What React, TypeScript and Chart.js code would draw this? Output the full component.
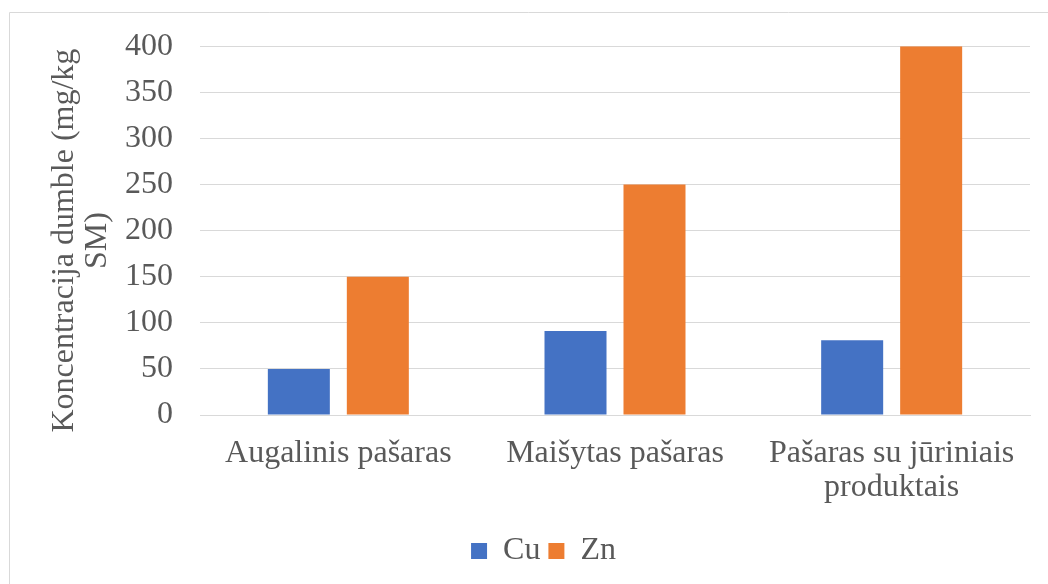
import React, { useEffect, useRef } from "react";
import { Chart, registerables } from "chart.js";

Chart.register(...registerables);

const categories: (string | string[])[] = [
  "Augalinis pašaras",
  "Maišytas pašaras",
  ["Pašaras su jūriniais", "produktais"],
];
const cuValues = [50, 91, 81];
const znValues = [150, 250, 400];
const yTitle = ["Koncentracija dumble (mg/kg", "SM)"];

const FONT = "'Liberation Serif', 'Times New Roman', serif";
const TEXT = "#595959";
const GRID = "#d9d9d9";

const frame = {
  id: "frame",
  afterDraw(chart: any) {
    const ctx = chart.ctx;
    ctx.save();
    ctx.strokeStyle = GRID;
    ctx.lineWidth = 1;
    ctx.beginPath();
    ctx.moveTo(9.5, chart.height);
    ctx.lineTo(9.5, 12.5);
    ctx.lineTo(chart.width, 12.5);
    ctx.stroke();
    ctx.restore();
  },
};

const yTitlePlugin = {
  id: "yTitlePlugin",
  afterDraw(chart: any) {
    const ctx = chart.ctx;
    const scale = chart.scales.y;
    const area = chart.chartArea;
    const lineH = 33;
    const cy = (area.top + area.bottom) / 2 + 10;
    const x0 = scale.left + 7.5;
    ctx.save();
    ctx.fillStyle = TEXT;
    ctx.font = `32px ${FONT}`;
    ctx.textAlign = "center";
    ctx.textBaseline = "middle";
    yTitle.forEach((line, i) => {
      ctx.save();
      ctx.translate(x0 + i * lineH, cy);
      ctx.rotate(-Math.PI / 2);
      ctx.fillText(line, 0, 0);
      ctx.restore();
    });
    ctx.restore();
  },
};

export default function App() {
  const ref = useRef<HTMLCanvasElement>(null);
  useEffect(() => {
    if (!ref.current) return;
    const chart = new Chart(ref.current, {
      type: "bar",
      data: {
        labels: categories,
        datasets: [
          {
            label: "Cu",
            data: cuValues,
            backgroundColor: "#4472C4",
            categoryPercentage: 0.571,
            barPercentage: 0.785,
          },
          {
            label: "Zn",
            data: znValues,
            backgroundColor: "#ED7D31",
            categoryPercentage: 0.571,
            barPercentage: 0.785,
          },
        ],
      },
      options: {
        responsive: false,
        animation: false,
        layout: { padding: { left: 57, top: 44, right: 18, bottom: 7 } },
        plugins: {
          legend: {
            position: "bottom",
            labels: {
              boxWidth: 16,
              boxHeight: 16,
              padding: 8,
              color: TEXT,
              font: { family: FONT, size: 32 },
            },
          },
          tooltip: { enabled: false },
        },
        scales: {
          x: {
            grid: { display: false, drawTicks: false },
            border: { display: true, color: GRID },
            ticks: {
              color: TEXT,
              padding: 22,
              maxRotation: 0,
              autoSkip: false,
              font: { family: FONT, size: 32, lineHeight: "34px" },
            },
            afterFit(scale: any) {
              scale.height = 112;
            },
          },
          y: {
            min: 0,
            max: 400,
            grid: { color: GRID, drawTicks: false, lineWidth: 1 },
            border: { display: false },
            ticks: {
              stepSize: 50,
              color: TEXT,
              padding: 27,
              font: { family: FONT, size: 32 },
            },
            afterFit(scale: any) {
              scale.width = 143;
            },
          },
        },
      },
      plugins: [frame, yTitlePlugin],
    });
    return () => chart.destroy();
  }, []);
  return (
    <canvas
      ref={ref}
      width={1048}
      height={584}
      style={{ position: "absolute", left: 0, top: 0, display: "block" }}
    />
  );
}
